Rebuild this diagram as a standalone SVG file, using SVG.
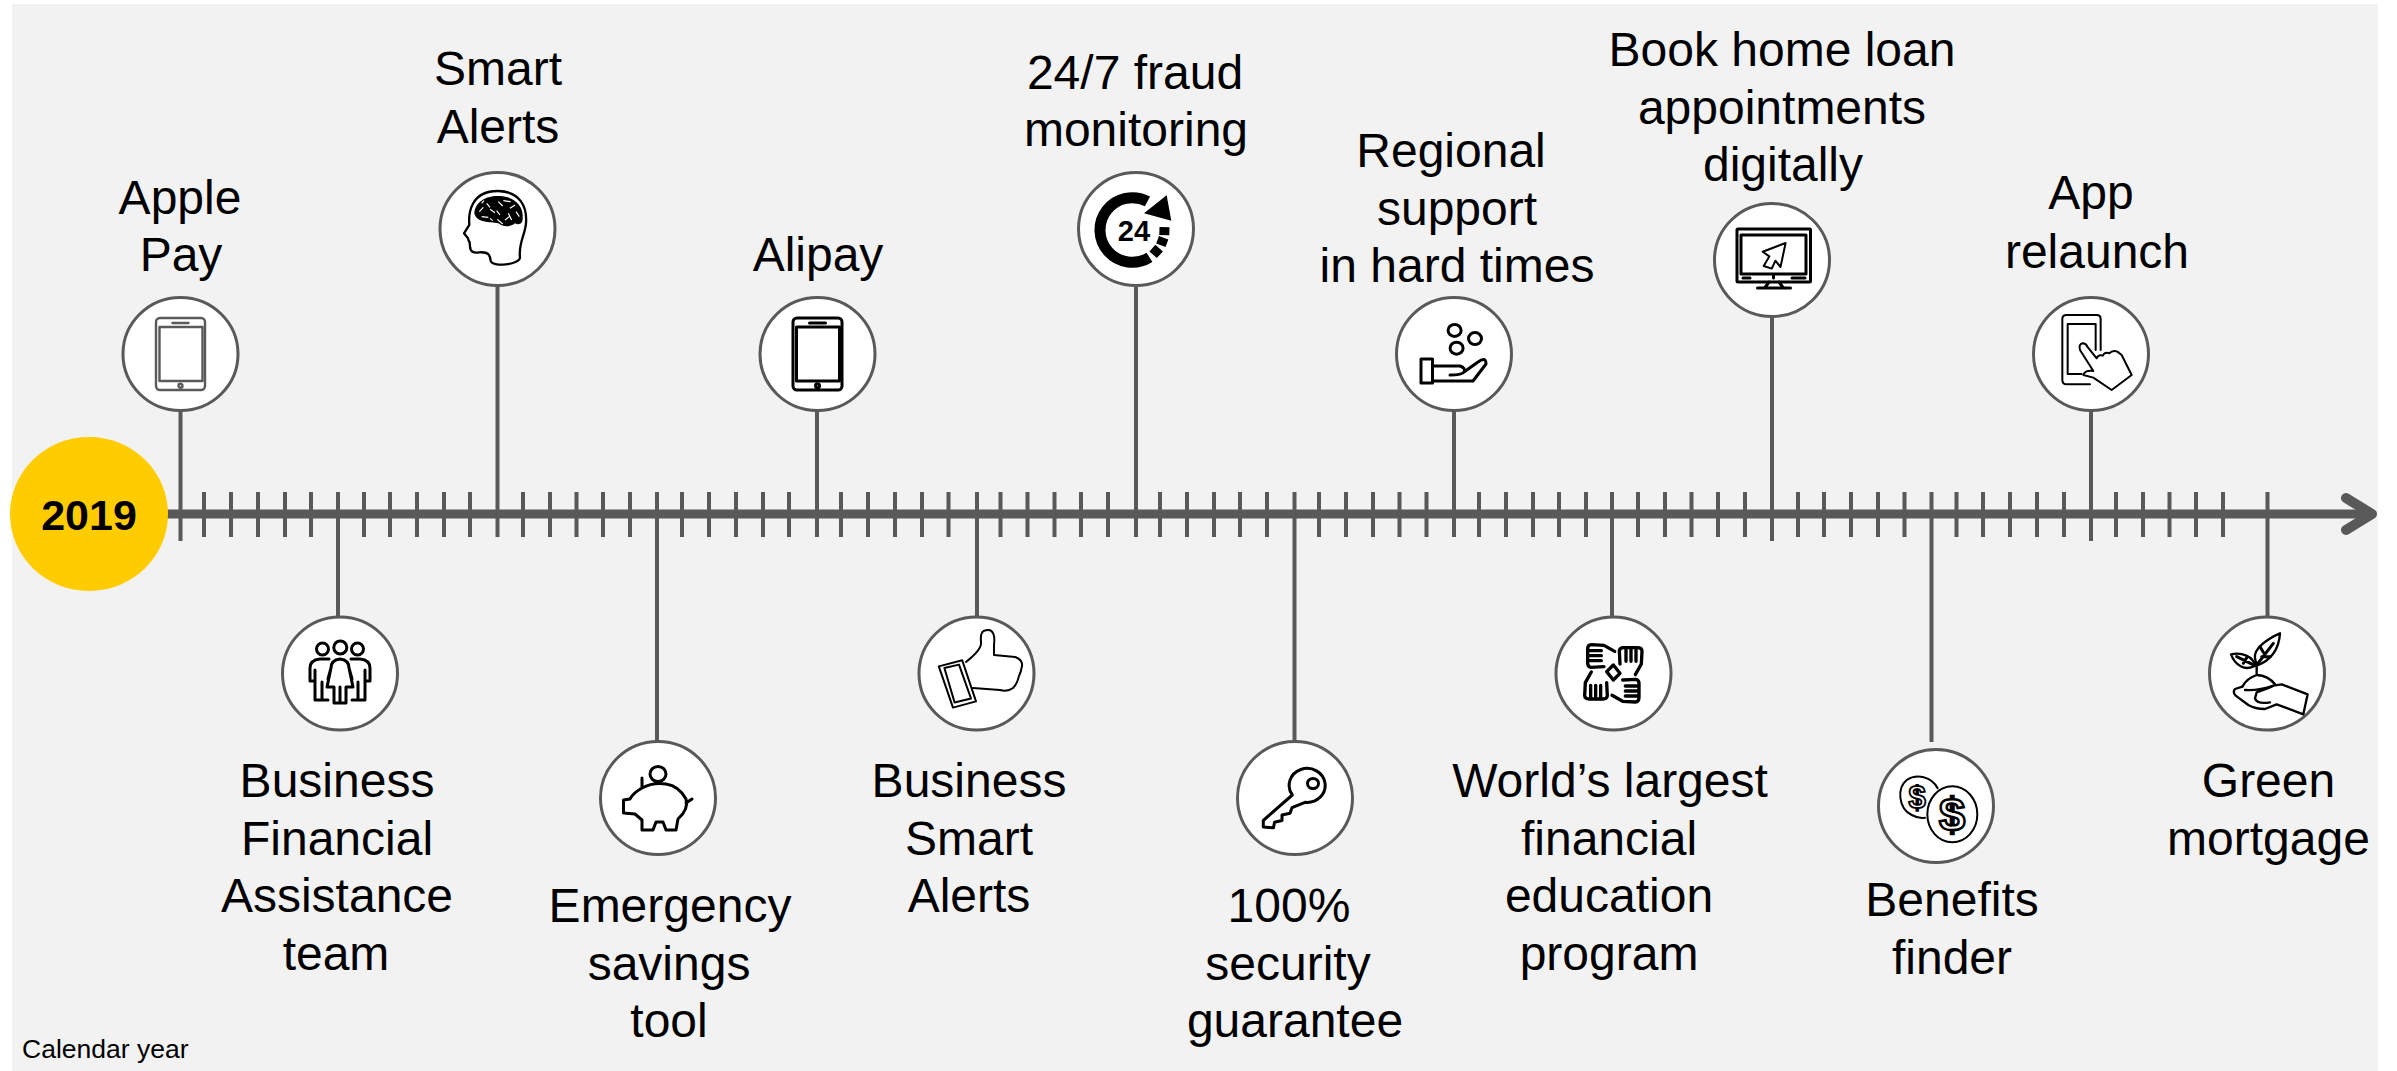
<svg xmlns="http://www.w3.org/2000/svg" width="2397" height="1071" viewBox="0 0 2397 1071">
<style>
text{font-family:"Liberation Sans",Arial,sans-serif;fill:#000}
.t{font-size:48px;text-anchor:middle}
.c{fill:#fff;stroke:#595959;stroke-width:3}
.i{fill:none;stroke:#000;stroke-width:3;stroke-linejoin:round;stroke-linecap:round}
.f{fill:#fff}
.g{stroke:#595959}
.ax{fill:none;stroke:#595959}
</style>
<defs>
<g id="phone"><rect x="-24.500" y="-36" width="49" height="72" rx="4"/><rect x="-21" y="-27" width="43" height="54"/><path d="M-8,-31H8"/><circle cx="0" cy="31.700" r="2"/></g>
<g id="hand"><path d="M20,-28L18,-68Q20,-77 30,-77L72,-77Q86,-77 86,-66L84,-28L66,4"/><path d="M38,-76V-36M53,-76V-36M68,-76V-36"/></g>
</defs>
<rect id="background" x="12" y="4" width="2366" height="1067" fill="#F2F2F2"/>
<g id="connectors">
<path class="ax" stroke-width="9" d="M160,514H2372"/>
<path class="ax" stroke-width="10" stroke-linecap="round" stroke-linejoin="round" d="M2346,498L2372,514L2346,530"/>
<path class="ax" stroke-width="4" d="M204,492V537M231,492V537M258,492V537M285,492V537M311,492V537M364,492V537M390,492V537M417,492V537M444,492V537M470,492V537M523,492V537M550,492V537M576.500,492V537M603,492V537M630,492V537M682,492V537M709,492V537M736,492V537M763,492V537M789,492V537M841,492V537M868,492V537M895,492V537M922,492V537M948.500,492V537M1000.500,492V537M1027.500,492V537M1054.500,492V537M1081,492V537M1108,492V537M1160,492V537M1187,492V537M1214,492V537M1240,492V537M1267,492V537M1319,492V537M1346,492V537M1373,492V537M1399.500,492V537M1426.500,492V537M1479,492V537M1506,492V537M1533,492V537M1559,492V537M1586,492V537M1638,492V537M1665,492V537M1691.500,492V537M1718,492V537M1745,492V537M1798,492V537M1824,492V537M1851,492V537M1878,492V537M1904.500,492V537M1956.500,492V537M1983,492V537M2010,492V537M2037,492V537M2064,492V537M2116,492V537M2143,492V537M2169.500,492V537M2196,492V537M2223,492V537"/>
<path class="ax" stroke-width="4" d="M180.500,410V541M497.500,286V537M817,410V537M1136,286V537M1454,410V537M1772,316V541M2091,410V541"/>
<path class="ax" stroke-width="4" d="M338,492V617M657,492V741M977,492V617M1294.500,492V741M1612,492V617M1931.500,492V742M2267.500,492V617"/>
</g>
<g id="node-2019"><ellipse cx="89" cy="514" rx="79" ry="77" fill="#FFCC00"/><text x="89" y="530" font-size="43" font-weight="700" text-anchor="middle">2019</text></g>
<g id="node-apple-pay"><ellipse class="c" cx="180.500" cy="354" rx="57.500" ry="56.500"/><use href="#phone" x="180.500" y="354" class="i g" style="stroke-width:2.400"/><text class="t" x="180" y="214">Apple</text><text class="t" x="181" y="271">Pay</text></g>
<g id="node-smart-alerts"><ellipse class="c" cx="497.500" cy="229" rx="57.500" ry="56.500"/>
<g transform="translate(440,170) scale(.3333)"><path class="i" style="stroke-width:7" d="M240,262C240,285 155,292 152,272C150,255 146,245 118,247C100,250 90,245 90,228C88,222 92,218 86,212L84,205L72,190L88,165C85,130 92,62 175,63C240,65 262,110 258,160C255,195 235,220 240,262Z"/><path d="M103,130C105,95 140,75 180,78C225,80 250,110 248,140C250,165 235,165 225,160C210,172 190,172 175,160C150,155 110,160 103,130Z"/><path d="M118,125L130,112M140,100L150,112M175,95L188,108M210,115L225,105M125,140L145,142M170,122L180,135M195,150L208,140M190,92L212,95M150,118L165,128M205,130L215,150M172,148L188,162M125,100L132,92M228,125L238,140M150,145L158,152" fill="none" stroke="#fff" stroke-width="3.500"/></g>
<text class="t" x="498" y="85">Smart</text><text class="t" x="498" y="143">Alerts</text></g>
<g id="node-alipay"><ellipse class="c" cx="817.500" cy="354" rx="57.500" ry="56.500"/><use href="#phone" x="817.500" y="354" class="i"/><text class="t" x="818" y="271">Alipay</text></g>
<g id="node-fraud"><ellipse class="c" cx="1136" cy="229" rx="57.500" ry="56.500"/>
<g transform="translate(1075,170) scale(.3333)"><path fill="none" stroke="#000" stroke-width="33" d="M223.400,262.300A97,97 0 1 1 217.500,94.400"/><path d="M275,76L289,152L207,130Z"/><path fill="none" stroke="#000" stroke-width="30" d="M268.600,171.500L267.800,195.200M266,203.500L257.600,225.500M252.400,234.200L234.400,254.300"/></g>
<text x="1134" y="241" font-size="29" font-weight="700" text-anchor="middle">24</text>
<text class="t" x="1135" y="89">24/7 fraud</text><text class="t" x="1136" y="146">monitoring</text></g>
<g id="node-regional"><ellipse class="c" cx="1454" cy="354" rx="57.500" ry="56.500"/>
<g class="i"><ellipse cx="1454.600" cy="330.400" rx="6.500" ry="6"/><ellipse cx="1475" cy="338.600" rx="6.500" ry="6"/><ellipse cx="1456.600" cy="348.200" rx="6.500" ry="6"/><rect x="1421" y="359" width="11.500" height="24"/><path d="M1433,366L1460,366Q1466,368 1464,372Q1462,375 1450,375M1464,372L1478,362Q1486,356 1486,364L1473,381L1433,381"/></g>
<text class="t" x="1451" y="167">Regional</text><text class="t" x="1457" y="225">support</text><text class="t" x="1457" y="282">in hard times</text></g>
<g id="node-home-loan"><ellipse class="c" cx="1772" cy="260" rx="57.500" ry="56.500"/>
<g class="i"><rect x="1737" y="229" width="73.500" height="53" rx="1"/><rect x="1741" y="235" width="65" height="39"/><path d="M1743,278H1750M1792,278H1805M1773.500,276V278"/><path d="M1769,282L1765,287.500M1779,282L1783,287.500M1757.500,288H1790.500"/><path d="M1785.600,243L1762.700,251.800L1769.300,256.400L1763.700,266L1771.800,268.600L1775.400,260.700L1780.500,267Z" style="stroke-width:2"/></g>
<text class="t" x="1782" y="66">Book home loan</text><text class="t" x="1782" y="124">appointments</text><text class="t" x="1783" y="181">digitally</text></g>
<g id="node-app-relaunch"><ellipse class="c" cx="2091" cy="354" rx="57.500" ry="56.500"/>
<g transform="translate(2030,295) scale(.3333)" class="i" style="stroke-width:6"><path d="M180,268L110,268Q97,268 97,255L97,72Q97,60 110,60L200,60Q212,60 212,72L212,165M197,165L197,87L113,87L113,237L155,237"/><path class="f" d="M150,165Q145,148 158,145Q168,145 172,155L200,190Q205,178 218,182Q225,170 238,175Q248,165 262,170L275,180L305,240L245,285L190,248L160,240Q165,225 190,228Z"/></g>
<text class="t" x="2091" y="209">App</text><text class="t" x="2097" y="268">relaunch</text></g>
<g id="node-bfa-team"><ellipse class="c" cx="340" cy="673.500" rx="57.500" ry="56.500"/>
<g class="i"><circle cx="340.300" cy="647.500" r="6.500"/><circle cx="322.500" cy="649" r="6"/><circle cx="357.500" cy="649" r="6"/><path d="M331,668Q331,660 340,659Q349,660 349,668L353,687L346,687L346,703L334,703L334,687L327,687ZM340,687V703M331,668L328,679M349,668L352,679"/><path d="M329,659L320,659Q310,660 310,668L310,681L315,681L315,700L328,700M315,670V681M322,682V700"/><path d="M351,659L360,659Q370,660 370,668L370,681L365,681L365,700L352,700M365,670V681M358,682V700"/></g>
<text class="t" x="337" y="797">Business</text><text class="t" x="337" y="855">Financial</text><text class="t" x="337" y="912">Assistance</text><text class="t" x="336" y="970">team</text></g>
<g id="node-emergency"><ellipse class="c" cx="658" cy="798" rx="57.500" ry="56.500"/>
<g class="i"><ellipse cx="658" cy="774" rx="8" ry="7.500"/><path d="M642,778L642,788Q633,793 630,799L623.500,800L623.500,813L635,814L642,820L642,830L653,830L656,822L663,822L666,830L676,830L678,819Q689,809 686,799Q679,786 666,784Q653,782 642,788M686,803L692,799"/></g>
<text class="t" x="670" y="922">Emergency</text><text class="t" x="669" y="980">savings</text><text class="t" x="669" y="1037">tool</text></g>
<g id="node-business-alerts"><ellipse class="c" cx="976.500" cy="673.500" rx="57.500" ry="56.500"/>
<g class="i" style="stroke-width:2"><path d="M938.800,666.400L962.200,660.200L976,701.400L953,707.600Z"/><path d="M944.400,668L959,664.600L971,698.500L954.600,702.500Z"/><path d="M966,662C975,655 982,648 981,642C980,632 983,630 988,630C994,630 995,637 994,645L994,655L1015,657Q1023,660 1022,666Q1021,672 1019,676Q1017,684 1013,688Q1008,692 1000,690L973,688"/></g>
<text class="t" x="969" y="797">Business</text><text class="t" x="969" y="855">Smart</text><text class="t" x="969" y="912">Alerts</text></g>
<g id="node-security"><ellipse class="c" cx="1295" cy="798" rx="57.500" ry="56.500"/>
<g class="i"><path d="M1305,802.300L1292,807.700L1290,813.200L1282,815L1282,820.500L1274.500,822.300L1273.500,827.800L1263.300,827L1263.300,820.500L1292.300,795A18,17 0 1 1 1305,802.300Z"/><ellipse cx="1313" cy="783.500" rx="5.500" ry="5"/></g>
<text class="t" x="1289" y="922">100%</text><text class="t" x="1288" y="980">security</text><text class="t" x="1295" y="1037">guarantee</text></g>
<g id="node-education"><ellipse class="c" cx="1613.500" cy="673.500" rx="57.500" ry="56.500"/>
<g transform="translate(1545,615) scale(.3333)" class="i" style="stroke-width:10"><g transform="translate(205,175)"><use href="#hand"/><use href="#hand" transform="rotate(90)"/><use href="#hand" transform="rotate(180)"/><use href="#hand" transform="rotate(270)"/><path d="M-20,-5L0,-25L20,0L0,20Z"/></g></g>
<text class="t" x="1610" y="797">World’s largest</text><text class="t" x="1609" y="855">financial</text><text class="t" x="1609" y="912">education</text><text class="t" x="1609" y="970">program</text></g>
<g id="node-benefits"><ellipse class="c" cx="1936" cy="806" rx="57.500" ry="56.500"/>
<g transform="translate(1875,745) scale(.3333)" class="i" style="stroke-width:6"><path d="M188,130C170,95 125,85 95,105C65,130 70,190 110,210C125,218 140,220 150,218"/><ellipse class="f" cx="232" cy="208" rx="75" ry="84"/></g>
<text x="1917" y="808" font-size="31" font-weight="700" text-anchor="middle" style="fill:#fff;stroke:#000;stroke-width:1.800">$</text>
<text x="1952" y="831" font-size="47" font-weight="700" text-anchor="middle" style="fill:#fff;stroke:#000;stroke-width:2.500">$</text>
<text class="t" x="1952" y="916">Benefits</text><text class="t" x="1952" y="974">finder</text></g>
<g id="node-green"><ellipse class="c" cx="2267" cy="673.500" rx="57.500" ry="56.500"/>
<g transform="translate(2205,615) scale(.3333)" class="i" style="stroke-width:7"><path d="M150,130C145,100 190,70 225,55C222,100 200,135 155,152Z"/><path d="M78,118C110,110 145,125 150,152C120,170 90,150 78,118Z"/><path d="M155,150L205,85M170,125L195,125M175,112L165,95M95,125L150,152M115,145L125,128" style="stroke-width:9"/><path d="M155,150L155,180M112,215Q125,190 155,180Q190,182 210,208"/><path d="M112,215L90,222Q82,232 92,242L130,270Q150,282 180,282L215,268L295,298L308,238L230,208L205,212Q195,218 155,232L150,250Q155,268 195,262M120,225Q160,228 205,212"/></g>
<text class="t" x="2268.500" y="797">Green</text><text class="t" x="2268.500" y="855">mortgage</text></g>
<text id="note" x="22" y="1058" font-size="26.500">Calendar year</text>
</svg>
